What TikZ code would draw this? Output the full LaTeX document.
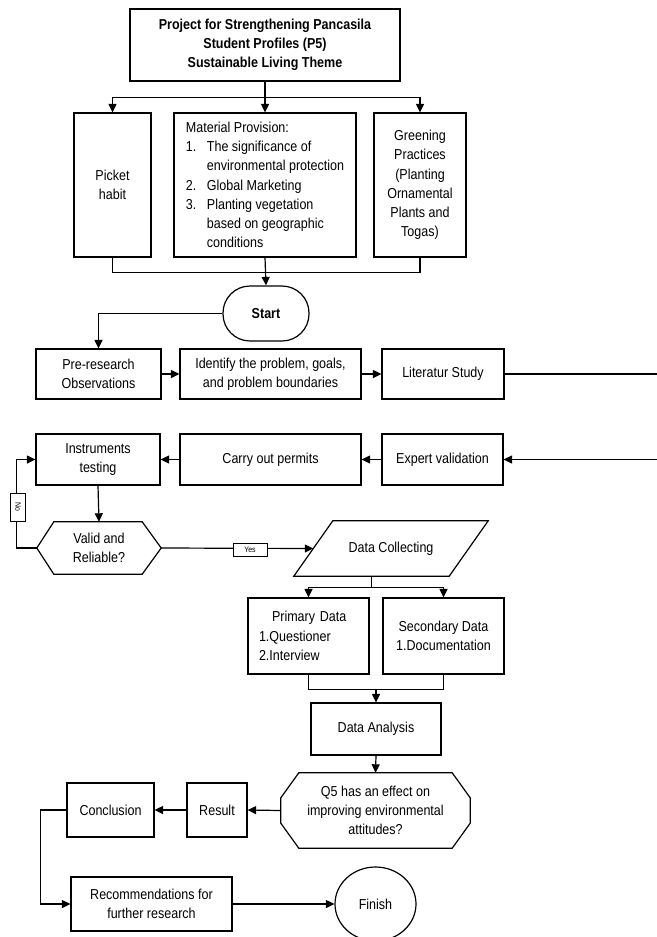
\documentclass[tikz,border=0pt]{standalone}
\usepackage{fontspec}
\setmainfont[FakeStretch=0.87]{Liberation Sans}
\usetikzlibrary{arrows.meta,shapes.geometric,calc}
\begin{document}
\begin{tikzpicture}[x=1pt,y=-1pt,
  every node/.style={font=\fontsize{14.4}{19.2}\selectfont},
  box/.style={draw, line width=1.2pt, inner sep=0pt, align=center},
  shp/.style={draw=none, inner sep=0pt, align=center},
  ln/.style={line width=1.2pt},
  arr/.style={line width=1.2pt, -{Triangle[length=8.5pt,width=8pt]}},
  tag/.style={draw, fill=white, line width=0.8pt, inner sep=0pt, font=\fontsize{8}{8}\selectfont}
]
\useasboundingbox (0,0) rectangle (656,937);

% --- nodes ---
\node[box, minimum width=270, minimum height=72, font=\bfseries\fontsize{14.4}{19}\selectfont] (title) at (265,45)
  {Project for Strengthening Pancasila\\Student Profiles (P5)\\Sustainable Living Theme};
\node[box, minimum width=77, minimum height=144] (picket) at (112.5,185) {Picket\\habit};
\node[box, minimum width=182, minimum height=144, align=left] (material) at (265,185)
  {Material Provision:\\
   \makebox[21pt][l]{1.}The significance of\\
   \hspace*{21pt}environmental protection\\
   \makebox[21pt][l]{2.}Global Marketing\\
   \makebox[21pt][l]{3.}Planting vegetation\\
   \hspace*{21pt}based on geographic\\
   \hspace*{21pt}conditions};
\node[box, minimum width=92, minimum height=144] (greening) at (420,185)
  {Greening\\Practices\\(Planting\\Ornamental\\Plants and\\Togas)};
\node[box, rounded corners=27pt, minimum width=86, minimum height=55, font=\bfseries\fontsize{14.4}{19}\selectfont] (start) at (266,313.5) {Start};

\node[box, minimum width=125, minimum height=50] (pre) at (98.5,374) {Pre-research\\Observations};
\node[box, minimum width=181, minimum height=50] (ident) at (270.5,374) {Identify the problem, goals,\\and problem boundaries};
\node[box, minimum width=122, minimum height=50] (lit) at (443,374) {Literatur Study};

\node[box, minimum width=124, minimum height=51] (instr) at (98,459.5) {Instruments\\testing};
\node[box, minimum width=181, minimum height=51] (carry) at (270.5,459.5) {Carry out permits};
\node[box, minimum width=121, minimum height=51] (expert) at (442.5,459.5) {Expert validation};

\node[shp, minimum width=124, minimum height=52] (valid) at (99,548) {Valid and\\Reliable?};
\node[shp, minimum width=155, minimum height=55] (dc) at (391,548.5) {Data Collecting};

\node[box, minimum width=121, minimum height=76, text width=99, align=left] (primary) at (308.5,636)
  {\hspace*{13pt}Primary Data\\1.Questioner\\2.Interview};
\node[box, minimum width=121, minimum height=76] (secondary) at (443.5,636)
  {Secondary Data\\1.Documentation};
\node[box, minimum width=130, minimum height=52] (da) at (376,729) {Data Analysis};
\node[shp, minimum width=189, minimum height=75] (q5) at (375.5,810.5)
  {Q5 has an effect on\\improving environmental\\attitudes?};
\node[box, minimum width=60, minimum height=54] (result) at (217,810) {Result};
\node[box, minimum width=87, minimum height=54] (concl) at (110.5,810) {Conclusion};
\node[box, minimum width=161, minimum height=54] (rec) at (151.5,904) {Recommendations for\\further research};
\node[box, ellipse, minimum width=81, minimum height=74] (finish) at (375.5,904) {Finish};

% --- shapes drawn from node anchors ---
\draw[ln] (valid.west) -- ($(valid.north west)+(17,0)$) -- ($(valid.north east)+(-19,0)$) -- (valid.east)
  -- ($(valid.south east)+(-19,0)$) -- ($(valid.south west)+(17,0)$) -- cycle;
\draw[ln] ($(dc.north west)+(19.5,0)$) -- ($(dc.north east)+(19.5,0)$) -- ($(dc.south east)+(-19.5,0)$)
  -- ($(dc.south west)+(-19.5,0)$) -- cycle;
\draw[ln] ($(q5.north west)+(18,0)$) -- ($(q5.north east)+(-18,0)$) -- ($(q5.north east)+(0,25)$)
  -- ($(q5.south east)+(0,-25)$) -- ($(q5.south east)+(-18,0)$) -- ($(q5.south west)+(18,0)$)
  -- ($(q5.south west)+(0,-25)$) -- ($(q5.north west)+(0,25)$) -- cycle;

% --- connectors ---
\draw[ln] (title.south) -- ++(0,16) coordinate (tb);
\draw[arr] (tb) -| (picket.north);
\draw[arr] (tb) -| (greening.north);
\draw[arr] (tb) -- (material.north);
\draw[ln] (picket.south) -- ++(0,15) -| (greening.south);
\draw[arr] (material.south) -- (start.north);
\draw[arr] (start.west) -| (pre.north);
\draw[arr] (pre.east) -- (ident.west);
\draw[arr] (ident.east) -- (lit.west);
\coordinate (rr) at (661,374);
\draw[arr] (lit.east) -- (rr) |- (expert.east);
\draw[arr] (expert.west) -- (carry.east);
\draw[arr] (carry.west) -- (instr.east);
\draw[arr] (instr.south) -- (valid.north);
\draw[arr] (valid.west) -- ++(-20,0) |- (instr.west);
\node[tag, rotate=-90, minimum width=28, minimum height=15] (no) at (18,507) {No};
\draw[arr] (valid.east) -- (dc.west);
\node[tag, minimum width=34, minimum height=13] (yes) at (250,549.5) {Yes};
\coordinate (dcb) at ($(dc.south)+(-19.5,0)$);
\draw[ln] (dcb) -- ++(0,11) coordinate (db);
\draw[arr] (db) -| (primary.north);
\draw[arr] (db) -| (secondary.north);
\draw[ln] (primary.south) -- ++(0,15) -| (secondary.south);
\coordinate (pm) at (376,689);
\draw[arr] (pm) -- (da.north);
\draw[arr] (da.south) -- (q5.north);
\draw[arr] (q5.west) -- (result.east);
\draw[arr] (result.west) -- (concl.east);
\draw[arr] (concl.west) -- ++(-26,0) |- (rec.west);
\draw[arr] (rec.east) -- (finish.west);
\end{tikzpicture}
\end{document}
